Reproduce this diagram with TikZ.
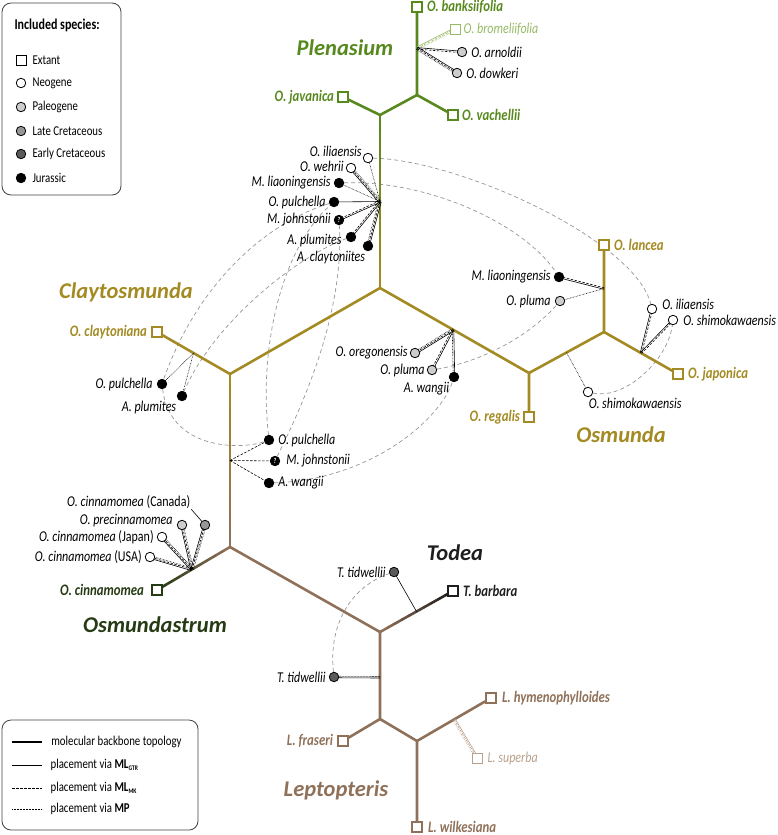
\documentclass[tikz,border=0pt]{standalone}
\usepackage{fontspec}
\setmainfont{Carlito}[FakeStretch=0.8]
\newfontfamily\cladefamily{Carlito}
\usetikzlibrary{calc,positioning}
\tikzset{>=latex}
\definecolor{plgreen}{RGB}{88,137,30}
\definecolor{pllight}{RGB}{150,185,100}
\definecolor{osolive}{RGB}{163,138,34}
\definecolor{asgreen}{RGB}{38,58,20}
\definecolor{lpbrown}{RGB}{143,112,88}
\definecolor{lplight}{RGB}{185,160,140}
\definecolor{tdblack}{RGB}{30,30,30}
\definecolor{curvegray}{RGB}{150,150,150}
\definecolor{palgray}{RGB}{205,205,205}
\definecolor{lcrgray}{RGB}{150,150,150}
\definecolor{ecrgray}{RGB}{90,90,90}
\pgfdeclarelayer{bg}
\pgfsetlayers{bg,main}

\newcommand*\spfont{\fontsize{15}{17}\selectfont\itshape}
\newcommand*\exfont{\fontsize{16}{18}\selectfont\bfseries\itshape}
\newcommand*\cladefont{\cladefamily\fontsize{22.5}{24}\selectfont\bfseries\itshape}
\newcommand*\legfont{\fontsize{13.5}{15}\selectfont}
\newcommand*\subsc[1]{\raisebox{-0.35ex}{\fontsize{7}{7}\selectfont\bfseries #1}}

\tikzset{
  backbone/.style={line width=2.6pt, line cap=round, line join=round},
  gtr/.style={line width=0.6pt},
  mk/.style={line width=0.6pt, dash pattern=on 2.5pt off 1.5pt},
  mp/.style={line width=0.6pt, dash pattern=on 0.6pt off 0.9pt},
  link/.style={curvegray, line width=0.7pt, dash pattern=on 4pt off 3pt},
  frame/.style={rounded corners=9pt, line width=0.8pt, draw=black!75},
  ext/.style={draw=#1, fill=white, rectangle, minimum size=10pt, inner sep=0pt, line width=1.7pt},
  ext/.default=black,
  fos/.style={draw, circle, minimum size=9.5pt, inner sep=0pt, line width=0.8pt},
  neo/.style={fos, fill=white},
  pal/.style={fos, fill=palgray},
  lcr/.style={fos, fill=lcrgray},
  ecr/.style={fos, fill=ecrgray},
  jur/.style={fos, fill=black},
  unk/.style={jur, text=white, font=\fontsize{7.5}{7.5}\selectfont\bfseries\upshape},
  sp/.style={font=\spfont, inner sep=1pt},
  exl/.style={font=\exfont, inner sep=1pt},
  clade/.style={font=\cladefont}
}

% placement line, shifted sideways by #4
\newcommand{\plc}[4]{\draw[#1] ($(#2)!#4!90:(#3)$) -- ($(#3)!#4!-90:(#2)$);}
\newcommand{\twoway}[5][black]{\plc{#2,#1}{#4}{#5}{0.75pt}\plc{#3,#1}{#4}{#5}{-0.75pt}}
\newcommand{\threeway}[3][black]{\plc{gtr,#1}{#2}{#3}{1.3pt}\plc{mk,#1}{#2}{#3}{0pt}\plc{mp,#1}{#2}{#3}{-1.3pt}}
% backbone branch fading from one colour to another
\newcommand{\grad}[4]{%
  \foreach \k in {0,...,9}{%
    \pgfmathsetmacro\ta{\k/10}%
    \pgfmathsetmacro\tb{(\k+1)/10}%
    \pgfmathtruncatemacro\mix{100-\k*100/9}%
    \colorlet{gradcol}{#3!\mix!#4}%
    \draw[backbone, gradcol] ($(#1)!\ta!(#2)$) -- ($(#1)!\tb!(#2)$);
  }}

\begin{document}
\begin{tikzpicture}[x=1pt, y=-1pt]
\useasboundingbox (0,0) rectangle (778,835);

% junctions of the backbone
\coordinate (pA) at (417,95);
\coordinate (pB) at (380,115);
\coordinate (ctr) at (380,288);
\coordinate (cl) at (230,374);
\coordinate (oa) at (230,547);
\coordinate (td) at (380,632);
\coordinate (lA) at (380,719);
\coordinate (lB) at (417,741);
\coordinate (os) at (529,373);
\coordinate (osB) at (604,332);

% extant species
\node[ext=plgreen] (bank) at (417,7) {};
\node[ext=plgreen] (jav) at (343,97) {};
\node[ext=plgreen] (vac) at (453,115) {};
\node[ext=pllight, line width=1pt] (brom) at (455,29) {};
\node[ext=osolive] (clay) at (157,332) {};
\node[ext=osolive] (lan) at (604,245) {};
\node[ext=osolive] (jpn) at (678,374) {};
\node[ext=osolive] (reg) at (529,417) {};
\node[ext=asgreen] (cin) at (157,590) {};
\node[ext=tdblack] (bar) at (453,591) {};
\node[ext=lpbrown] (fra) at (343,741) {};
\node[ext=lpbrown] (wil) at (417,827) {};
\node[ext=lpbrown] (hym) at (491,698) {};
\node[ext=lplight, line width=1pt] (sup) at (477,758) {};

% hubs for the fossil placements
\coordinate (hPl) at ($(bank)!0.47!(pA)$);
\coordinate (hMid) at ($(pB)!0.5!(ctr)$);
\coordinate (hLan) at ($(lan)!0.5!(osB)$);
\coordinate (hJap) at ($(osB)!0.5!(jpn)$);
\coordinate (hOsR) at ($(os)!0.5!(osB)$);
\coordinate (hOs) at ($(ctr)!0.49!(os)$);
\coordinate (hCl) at ($(cl)!0.5!(clay)$);
\coordinate (hLow) at ($(cl)!0.5!(oa)$);
\coordinate (hCin) at ($(oa)!0.52!(cin)$);
\coordinate (hTd) at ($(td)!0.5!(bar)$);
\coordinate (hTl) at ($(td)!0.52!(lA)$);
\coordinate (hSup) at ($(lB)!0.5!(hym)$);

% fossils
\node[pal] (arn) at (462,52) {};
\node[pal] (dow) at (457,73) {};
\node[neo] (ili1) at (368,158) {};
\node[neo] (weh) at (351,168) {};
\node[jur] (lia1) at (339,183) {};
\node[jur] (pul1) at (334,202) {};
\node[unk] (joh1) at (339,220) {?};
\node[jur] (plu1) at (351,237) {};
\node[jur] (cla) at (368,246) {};
\node[jur] (lia2) at (559,277) {};
\node[pal] (plm1) at (560,301) {};
\node[neo] (ili2) at (652,309) {};
\node[neo] (shi1) at (673,320) {};
\node[neo] (shi2) at (588,392) {};
\node[pal] (ore) at (415,353) {};
\node[pal] (plm2) at (432,370) {};
\node[jur] (wan1) at (454,377) {};
\node[jur] (pul2) at (162,384) {};
\node[jur] (plu2) at (182,396) {};
\node[jur] (pul3) at (269,440) {};
\node[unk] (joh2) at (275,461) {?};
\node[jur] (wan2) at (269,483) {};
\node[lcr] (can) at (205,525) {};
\node[pal] (pre) at (182,525) {};
\node[neo] (jap) at (162,537) {};
\node[neo] (usa) at (150,557) {};
\node[ecr] (tid1) at (394,572) {};
\node[ecr] (tid2) at (334,677) {};

% species labels
\node[exl, plgreen, right=3pt of bank] {O. banksiifolia};
\node[sp, pllight, right=2pt of brom] {O. bromeliifolia};
\node[sp, right=3pt of arn] {O. arnoldii};
\node[sp, right=3pt of dow] {O. dowkeri};
\node[exl, plgreen, left=2pt of jav] {O. javanica};
\node[exl, plgreen, right=2pt of vac] {O. vachellii};
\node[sp, left=0pt of ili1, yshift=7pt] {O. iliaensis};
\node[sp, left=1pt of weh, yshift=2pt] {O. wehrii};
\node[sp, left=2pt of lia1] {M. liaoningensis};
\node[sp, left=2pt of pul1] {O. pulchella};
\node[sp, left=2pt of joh1] {M. johnstonii};
\node[sp, left=3pt of plu1, yshift=-3pt] {A. plumites};
\node[sp, below left=0pt and -2pt of cla] {A. claytoniites};
\node[exl, osolive, right=3pt of lan] {O. lancea};
\node[sp, left=2pt of lia2] {M. liaoningensis};
\node[sp, left=3pt of plm1] {O. pluma};
\node[sp, right=4pt of ili2, yshift=5pt] {O. iliaensis};
\node[sp, right=4pt of shi1] {O. shimokawaensis};
\node[exl, osolive, right=3pt of jpn] {O. japonica};
\node[sp, below right=1pt and -4pt of shi2] {O. shimokawaensis};
\node[sp, left=1pt of ore] {O. oregonensis};
\node[sp, left=1pt of plm2] {O. pluma};
\node[sp, below left=0pt and 0pt of wan1] {A. wangii};
\node[exl, osolive, left=2pt of reg] {O. regalis};
\node[exl, osolive, left=3pt of clay] {O. claytoniana};
\node[sp, left=3pt of pul2] {O. pulchella};
\node[sp, below left=0pt and 1pt of plu2] {A. plumites};
\node[sp, right=3pt of pul3] {O. pulchella};
\node[sp, right=5pt of joh2] {M. johnstonii};
\node[sp, right=3pt of wan2] {A. wangii};
\node[sp, above left=12pt and 10pt of can] (lCan) {O. cinnamomea \textup{(Canada)}};
\node[sp, left=3pt of pre, yshift=4pt] {O. precinnamomea};
\node[sp, left=2pt of jap] {O. cinnamomea \textup{(Japan)}};
\node[sp, left=2pt of usa] {O. cinnamomea \textup{(USA)}};
\node[exl, asgreen, left=6pt of cin] {O. cinnamomea};
\node[sp, left=2pt of tid1] {T. tidwellii};
\node[exl, tdblack, right=3pt of bar] {T. barbara};
\node[sp, left=2pt of tid2] {T. tidwellii};
\node[exl, lpbrown, left=3pt of fra] {L. fraseri};
\node[exl, lpbrown, right=4pt of wil] {L. wilkesiana};
\node[exl, lpbrown, right=4pt of hym] {L. hymenophylloides};
\node[sp, lplight, right=4pt of sup] {L. superba};
\draw[gtr] (lCan.south east) -- (can);

% clade names
\node[clade, plgreen] (plen) at (345,48) {Plenasium};
\node[clade, osolive] (clayt) at (126,292) {Claytosmunda};
\node[clade, osolive] (osm) at (621,435) {Osmunda};
\node[clade, asgreen] (osmd) at (155,625) {Osmundastrum};
\node[clade, tdblack] (tod) at (455,553) {Todea};
\node[clade, lpbrown] (lept) at (336,790) {Leptopteris};

% legend: species
\draw[frame] (2,3) rectangle (121,195);
\node[anchor=west, font=\fontsize{15}{17}\selectfont\bfseries] (keyttl) at (11,25) {Included species:};
\foreach \st/\txt/\yy [count=\i] in {ext/Extant/60, neo/Neogene/83, pal/Paleogene/107,
    lcr/Late Cretaceous/131, ecr/Early Cretaceous/154, jur/Jurassic/178}
{
  \node[\st, line width=0.8pt] (key\i) at (21,\yy) {};
  \node[anchor=west, font=\legfont] at (29,\yy) {\txt};
}

% legend: line styles
\draw[frame] (2,720) rectangle (198,830);
\draw[line width=2pt] (12,742) -- (42,742) node[right=5pt, font=\legfont] {molecular backbone topology};
\draw[gtr] (12,765) -- (42,765) node[right=5pt, font=\legfont] {placement via \textbf{ML}\subsc{GTR}};
\draw[mk] (12,788) -- (42,788) node[right=5pt, font=\legfont] {placement via \textbf{ML}\subsc{MK}};
\draw[mp] (12,809) -- (42,809) node[right=5pt, font=\legfont] {placement via \textbf{MP}};

\begin{pgfonlayer}{bg}
% alternative positions of the same fossil
\draw[link] (ili1) .. controls (460,160) and (635,240) .. (ili2);
\draw[link] (lia1) .. controls (430,180) and (525,225) .. (lia2);
\draw[link] (shi2) .. controls (625,400) and (668,360) .. (shi1);
\draw[link] (plm2) .. controls (490,360) and (535,330) .. (plm1);
\draw[link] (wan2) .. controls (370,480) and (440,420) .. (wan1);
\draw[link] (tid2) .. controls (328,620) and (355,585) .. (tid1);
\draw[link] (pul1) .. controls (260,225) and (195,290) .. (pul2);
\draw[link] (plu1) .. controls (300,255) and (215,320) .. (plu2);
\draw[link] (pul2) .. controls (170,450) and (240,450) .. (pul3);
\draw[link] (pul3) .. controls (258,340) and (285,245) .. (pul1);
\draw[link] (joh2) .. controls (295,420) and (345,320) .. (joh1);

% backbone
\draw[backbone, plgreen] (bank) -- (pA) -- (vac);
\draw[backbone, plgreen] (pA) -- (pB) -- (jav);
\grad{pB}{ctr}{plgreen}{osolive}
\draw[backbone, osolive] (clay) -- (cl) -- (ctr) -- (os) -- (reg);
\draw[backbone, osolive] (os) -- (osB) -- (lan);
\draw[backbone, osolive] (osB) -- (jpn);
\grad{cl}{oa}{osolive}{lpbrown}
\draw[backbone, lpbrown] (oa) -- (td) -- (lA) -- (fra);
\draw[backbone, lpbrown] (lA) -- (lB) -- (wil);
\draw[backbone, lpbrown] (lB) -- (hym);
\grad{oa}{cin}{lpbrown}{asgreen}
\grad{td}{bar}{lpbrown}{tdblack}

% placements
\threeway[pllight]{hPl}{brom}
\twoway{gtr}{mk}{hPl}{arn}
\threeway{hPl}{dow}
\plc{mp}{hMid}{ili1}{0pt}
\threeway{hMid}{weh}
\plc{mp}{hMid}{lia1}{0pt}
\plc{gtr}{hMid}{pul1}{0pt}
\twoway{gtr}{mk}{hMid}{joh1}
\twoway{gtr}{mk}{hMid}{plu1}
\threeway{hMid}{cla}
\twoway{gtr}{mk}{hLan}{lia2}
\plc{mp}{hLan}{plm1}{0pt}
\twoway{gtr}{mk}{hJap}{ili2}
\twoway{gtr}{mk}{hJap}{shi1}
\plc{mp}{hOsR}{shi2}{0pt}
\threeway{hOs}{ore}
\twoway{gtr}{mk}{hOs}{plm2}
\twoway{gtr}{mp}{hOs}{wan1}
\plc{mp}{hCl}{pul2}{0pt}
\plc{mp}{hCl}{plu2}{0pt}
\plc{mk}{hLow}{pul3}{0pt}
\plc{mk}{hLow}{joh2}{0pt}
\plc{mk}{hLow}{wan2}{0pt}
\threeway{hCin}{can}
\threeway{hCin}{pre}
\threeway{hCin}{jap}
\threeway{hCin}{usa}
\plc{gtr}{hTd}{tid1}{0pt}
\twoway{gtr}{mp}{hTl}{tid2}
\threeway[lplight]{hSup}{sup}
\end{pgfonlayer}
\end{tikzpicture}
\end{document}
